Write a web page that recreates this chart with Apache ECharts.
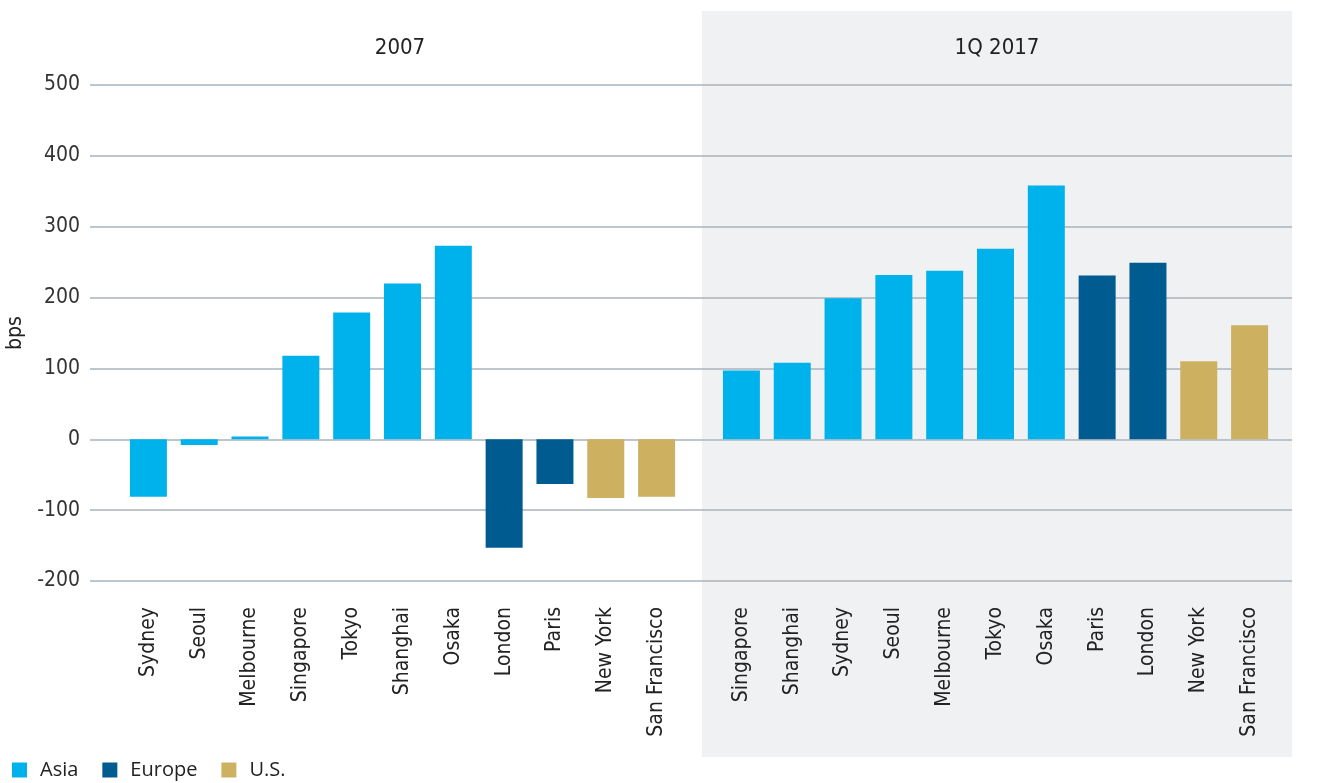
<!DOCTYPE html>
<html>
<head>
<meta charset="utf-8">
<script src="https://cdn.jsdelivr.net/npm/echarts@6/dist/echarts.min.js"></script>
<style>
html,body{margin:0;padding:0;background:#fff;}
#c{width:1340px;height:783px;}
</style>
</head>
<body>
<div id="c"></div>
<script>
// ---- data ----
const yTicks = [-200, -100, 0, 100, 200, 300, 400, 500];
const panelTitles = ['2007', '1Q 2017'];
const regions = ['Asia', 'Europe', 'U.S.'];

const cities2007 = ['Sydney', 'Seoul', 'Melbourne', 'Singapore', 'Tokyo', 'Shanghai', 'Osaka', 'London', 'Paris', 'New York', 'San Francisco'];
const region2007 = ['Asia', 'Asia', 'Asia', 'Asia', 'Asia', 'Asia', 'Asia', 'Europe', 'Europe', 'U.S.', 'U.S.'];
const values2007 = [-81, -8, 4, 118, 179, 220, 273, -153, -63, -83, -81];

const cities2017 = ['Singapore', 'Shanghai', 'Sydney', 'Seoul', 'Melbourne', 'Tokyo', 'Osaka', 'Paris', 'London', 'New York', 'San Francisco'];
const region2017 = ['Asia', 'Asia', 'Asia', 'Asia', 'Asia', 'Asia', 'Asia', 'Europe', 'Europe', 'U.S.', 'U.S.'];
const values2017 = [97, 108, 199, 232, 238, 269, 358, 231, 249, 110, 161];

// ---- styling ----
const colors = { 'Asia': '#00b2ec', 'Europe': '#005b91', 'U.S.': '#cdb160' };
const condFont = '"Liberation Sans Narrow", "DejaVu Sans Condensed", "Roboto", sans-serif';

const chart = echarts.init(document.getElementById('c'));

function seriesFor(values, regs, gridIdx) {
  return regions.map(r => ({
    name: r,
    type: 'bar',
    xAxisIndex: gridIdx,
    yAxisIndex: gridIdx,
    stack: 'g' + gridIdx,
    barWidth: 37,
    itemStyle: { color: colors[r] },
    data: values.map((v, i) => regs[i] === r ? v : '-'),
    animation: false
  }));
}

const yMin = yTicks[0], yMax = yTicks[yTicks.length - 1];

const option = {
  animation: false,
  graphic: [
    { type: 'rect', z: -100, silent: true, shape: { x: 702, y: 11, width: 590, height: 746 }, style: { fill: '#f0f1f3' } },
    { type: 'text', x: 400, y: 48, style: { text: panelTitles[0], fill: '#222', font: '22px ' + condFont, textAlign: 'center', textVerticalAlign: 'middle' } },
    { type: 'text', x: 997, y: 48, style: { text: panelTitles[1], fill: '#222', font: '22px ' + condFont, textAlign: 'center', textVerticalAlign: 'middle' } }
  ],
  legend: {
    left: 12, top: 760, padding: 0,
    itemWidth: 15, itemHeight: 15, itemGap: 24,
    icon: 'rect',
    data: regions,
    textStyle: { fontFamily: '"Open Sans", sans-serif', fontSize: 20, color: '#222', padding: [0, 0, 0, 8] }
  },
  grid: [
    { left: 123, width: 559, top: 85, bottom: 202, outerBoundsMode: 'none' },
    { left: 716, width: 559, top: 85, bottom: 202, outerBoundsMode: 'none' },
    { left: 90, right: 48, top: 85, bottom: 202, outerBoundsMode: 'none' }
  ],
  xAxis: [
    { type: 'category', gridIndex: 0, data: cities2007, axisLine: { show: false }, axisTick: { show: false },
      axisLabel: { rotate: 90, margin: 26, interval: 0, fontFamily: condFont, fontSize: 21, color: '#222' } },
    { type: 'category', gridIndex: 1, data: cities2017, axisLine: { show: false }, axisTick: { show: false },
      axisLabel: { rotate: 90, margin: 26, interval: 0, fontFamily: condFont, fontSize: 21, color: '#222' } },
    { type: 'value', gridIndex: 2, show: false, min: 0, max: 1 }
  ],
  yAxis: [
    { type: 'value', gridIndex: 0, min: yMin, max: yMax, interval: 100, show: false, splitLine: { show: false } },
    { type: 'value', gridIndex: 1, min: yMin, max: yMax, interval: 100, show: false, splitLine: { show: false } },
    { type: 'value', gridIndex: 2, min: yMin, max: yMax, interval: 100,
      axisLine: { show: false }, axisTick: { show: false },
      axisLabel: { margin: 10, fontFamily: condFont, fontSize: 21, color: '#333' },
      splitLine: { show: true, lineStyle: { color: '#a9b3bc', width: 1.5 } },
      name: 'bps', nameLocation: 'middle', nameGap: 60, nameRotate: 90,
      nameTextStyle: { fontFamily: condFont, fontSize: 21, color: '#222' } }
  ],
  series: [].concat(seriesFor(values2007, region2007, 0), seriesFor(values2017, region2017, 1))
};

chart.setOption(option);
</script>
</body>
</html>
